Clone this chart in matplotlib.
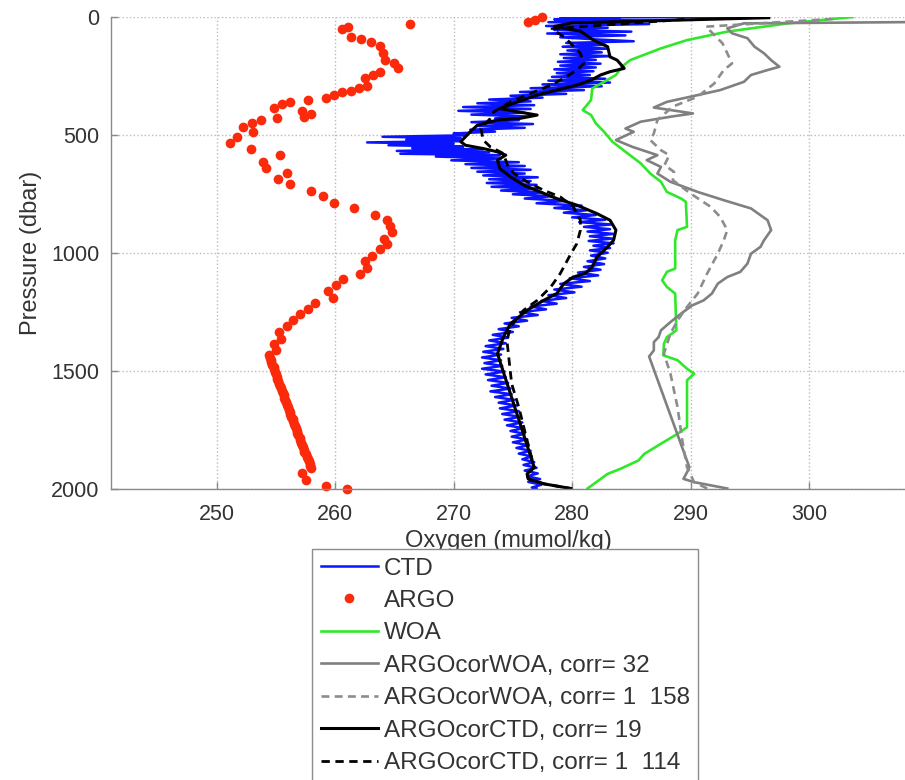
import matplotlib.pyplot as plt

# CTD profile: pressure (dbar) and oxygen (umol/kg)
ctd_p = [0, 2, 6, 10, 16, 22, 30, 38, 46, 55, 62, 70, 78, 86, 95, 103, 110, 118,
         126, 134, 142, 150, 158, 166, 174, 182, 190, 198, 206, 214, 222, 230,
         238, 246, 254, 262, 270, 278, 286, 294, 302, 310, 318, 326, 334, 342,
         350, 358, 366, 374, 382, 390, 398, 406, 414, 422, 430, 438, 446, 454,
         462, 470, 478, 486, 494, 502, 508, 514, 520, 526, 532, 538, 544, 550,
         556, 562, 568, 574, 580, 586, 592, 600, 608, 616, 624, 632, 640, 648,
         656, 664, 672, 680, 688, 696, 704, 712, 720, 728, 736, 744, 752, 760,
         770, 780, 790, 800, 810, 820, 830, 840, 850, 860, 870, 880, 890, 900,
         910, 920, 930, 940, 950, 960, 970, 980, 990, 1000, 1012, 1024, 1036,
         1048, 1060, 1072, 1084, 1096, 1108, 1120, 1132, 1144, 1156, 1168, 1180,
         1192, 1204, 1216, 1228, 1240, 1252, 1264, 1276, 1288, 1300, 1312, 1324,
         1336, 1348, 1360, 1372, 1384, 1396, 1408, 1420, 1432, 1444, 1456, 1468,
         1480, 1492, 1504, 1516, 1528, 1540, 1552, 1564, 1576, 1588, 1600, 1612,
         1624, 1636, 1648, 1660, 1672, 1684, 1696, 1708, 1720, 1732, 1744, 1756,
         1768, 1780, 1792, 1804, 1816, 1828, 1840, 1852, 1864, 1876, 1888, 1900,
         1912, 1924, 1936, 1948, 1960, 1972, 1984, 1996, 2000]
ctd_o = [296.0, 279.0, 284.0, 278.5, 288.0, 278.0, 286.5, 277.8, 283.0, 278.5,
         285.0, 277.9, 284.5, 279.0, 282.0, 285.2, 279.5, 282.8, 279.2, 283.0,
         279.6, 282.5, 279.0, 283.2, 279.3, 282.0, 278.8, 282.4, 279.0, 282.0,
         278.5, 281.8, 278.7, 281.5, 278.3, 282.8, 278.0, 283.2, 277.5, 282.5,
         276.5, 281.0, 275.6, 279.5, 274.8, 277.5, 273.0, 276.5, 272.0, 276.8,
         270.8, 276.5, 270.4, 276.0, 271.5, 276.3, 273.5, 275.5, 271.5, 276.7,
         272.0, 276.0, 271.4, 273.5, 270.0, 271.0, 264.0, 270.6, 266.0, 270.5,
         262.7, 270.0, 264.5, 270.8, 266.5, 272.5, 265.2, 273.0, 265.5, 273.9,
         268.5, 274.0, 269.8, 275.5, 271.0, 276.0, 271.5, 276.5, 272.0, 276.0,
         272.5, 277.1, 273.0, 276.5, 272.8, 277.0, 273.2, 277.1, 274.0, 277.5,
         275.0, 278.3, 276.0, 279.5, 277.0, 280.8, 278.5, 281.2, 279.3, 282.0,
         280.0, 282.8, 280.6, 283.3, 281.0, 283.2, 281.3, 283.5, 281.5, 283.4,
         281.4, 283.5, 281.8, 283.2, 281.5, 283.0, 281.6, 282.8, 281.3, 282.7,
         281.0, 282.4, 280.5, 282.2, 279.8, 281.5, 279.0, 280.8, 278.5, 280.2,
         278.0, 279.5, 277.4, 278.7, 276.5, 277.8, 275.6, 277.1, 274.9, 276.2,
         274.3, 275.5, 273.8, 275.0, 273.3, 274.6, 273.0, 274.4, 272.7, 274.2,
         272.5, 274.0, 272.4, 274.0, 272.6, 274.1, 272.4, 274.3, 272.7, 274.4,
         272.9, 274.6, 273.2, 274.8, 273.1, 274.9, 273.5, 275.1, 273.8, 275.3,
         273.9, 275.5, 274.1, 275.6, 274.3, 275.8, 274.5, 275.9, 274.8, 276.0,
         274.9, 276.2, 275.0, 276.3, 275.3, 276.5, 275.5, 276.6, 275.8, 276.8,
         275.9, 277.0, 276.0, 277.1, 276.2, 277.3, 276.3, 277.4, 276.6, 277.0]

# ARGO float samples
argo_p = [2, 12, 20, 30, 41, 52, 84, 95, 108, 123, 154, 183, 197, 218, 232, 246,
          260, 293, 303, 313, 318, 331, 343, 350, 360, 369, 384, 398, 413, 423,
          430, 437, 451, 468, 487, 508, 536, 558, 586, 614, 640, 660, 688, 709,
          737, 760, 788, 812, 838, 862, 887, 914, 940, 961, 986, 1015, 1035,
          1063, 1088, 1110, 1138, 1162, 1190, 1213, 1237, 1258, 1284, 1309, 1336,
          1364, 1386, 1411, 1435, 1445, 1455, 1465, 1475, 1485, 1495, 1505, 1515,
          1525, 1535, 1545, 1555, 1565, 1575, 1585, 1595, 1605, 1615, 1625, 1635,
          1645, 1655, 1665, 1675, 1685, 1695, 1705, 1715, 1725, 1735, 1745, 1755,
          1765, 1775, 1785, 1795, 1805, 1815, 1825, 1835, 1845, 1855, 1865, 1875,
          1885, 1895, 1904, 1912, 1933, 1963, 1990, 2001]
argo_o = [277.5, 276.9, 276.3, 266.3, 261.1, 260.6, 261.35, 262.2, 263.0, 263.8,
          264.0, 264.2, 265.0, 265.3, 263.8, 263.2, 262.5, 262.7, 262.0, 261.3,
          260.6, 259.9, 259.2, 257.7, 256.2, 255.5, 254.8, 257.2, 258.0, 257.4,
          255.1, 253.7, 253.0, 252.25, 253.1, 251.7, 251.1, 252.9, 255.35, 253.9,
          254.2, 255.9, 255.2, 256.2, 258.0, 259.0, 259.9, 261.6, 263.4, 264.4,
          264.6, 264.8, 264.1, 264.4, 263.8, 263.1, 262.5, 262.7, 262.1, 260.7,
          260.1, 259.4, 259.8, 258.3, 257.7, 257.0, 256.4, 255.9, 255.3, 255.4,
          254.8, 255.0, 254.4, 254.5, 254.6, 254.6, 254.7, 254.8, 254.85, 254.9,
          255.0, 255.05, 255.1, 255.2, 255.3, 255.35, 255.45, 255.5, 255.6, 255.65,
          255.7, 255.8, 255.85, 255.9, 256.0, 256.1, 256.15, 256.2, 256.3, 256.4,
          256.45, 256.5, 256.6, 256.7, 256.75, 256.8, 256.9, 257.0, 257.05, 257.1,
          257.2, 257.3, 257.35, 257.4, 257.5, 257.6, 257.7, 257.75, 257.85, 257.9,
          258.0, 257.2, 257.5, 259.2, 261.0]

# WOA climatology
woa_p = [0, 27, 62, 98, 133, 183, 211, 246, 275, 303, 352, 395, 416, 451, 487,
         529, 579, 621, 664, 699, 742, 770, 784, 890, 904, 947, 1067, 1081, 1117,
         1145, 1173, 1329, 1358, 1386, 1435, 1456, 1492, 1513, 1541, 1740, 1768,
         1810, 1853, 1881, 1916, 1938, 2000]
woa_o = [303.7, 298.2, 293.1, 289.7, 287.5, 284.9, 284.2, 283.7, 282.7, 281.7,
         281.6, 280.9, 281.6, 282.0, 282.7, 283.4, 284.7, 285.8, 286.6, 287.5,
         288.0, 289.2, 289.6, 289.7, 288.9, 288.7, 288.7, 288.0, 287.6, 288.0,
         288.7, 288.8, 288.0, 287.75, 287.7, 288.9, 289.7, 290.3, 289.7, 289.7,
         288.9, 287.5, 286.1, 285.6, 284.1, 283.0, 281.3]

# ARGO corrected with WOA, corr= 32
cw1_p = [21, 27, 48, 69, 90, 126, 154, 183, 211, 225, 246, 275, 310, 338, 360,
         384, 409, 423, 444, 473, 487, 522, 551, 586, 607, 636, 664, 699, 742,
         777, 812, 862, 904, 947, 975, 1004, 1046, 1081, 1103, 1131, 1173, 1202,
         1223, 1258, 1294, 1329, 1358, 1379, 1414, 1440, 1910, 1931, 1959, 1973,
         2000]
cw1_o = [310.0, 294.5, 293.1, 293.5, 294.8, 295.4, 296.2, 296.8, 297.5, 296.5,
         295.1, 294.5, 292.5, 290.0, 288.0, 286.9, 290.2, 288.3, 285.8, 284.5,
         285.2, 283.7, 285.1, 287.2, 286.3, 287.5, 287.2, 288.3, 290.6, 292.8,
         295.1, 296.5, 296.8, 296.2, 295.9, 295.1, 294.8, 294.2, 293.1, 292.3,
         291.8, 291.1, 290.15, 289.2, 288.3, 287.5, 287.3, 286.9, 286.9, 286.5,
         289.9, 289.7, 289.4, 290.3, 293.1]

# ARGO corrected with WOA, corr= 1 158
cw2_p = [8, 41, 76, 112, 154, 197, 225, 282, 338, 380, 437, 494, 522, 565, 586,
         628, 657, 692, 749, 805, 848, 904, 947, 1004, 1088, 1173, 1230, 1287,
         1343, 1428, 1513, 1655, 1796, 1910, 1973, 2000]
cw2_o = [302.0, 291.3, 292.0, 292.7, 293.1, 293.5, 292.8, 292.0, 290.6, 288.5,
         287.2, 286.9, 286.6, 287.5, 288.2, 287.8, 288.6, 288.5, 290.0, 291.7,
         292.5, 293.1, 292.8, 292.3, 291.4, 290.6, 289.7, 288.9, 288.3, 287.75,
         288.3, 288.9, 289.3, 289.7, 290.3, 291.4]

# ARGO corrected with CTD, corr= 19
cc1_p = [3, 25, 40, 60, 98, 126, 169, 183, 218, 232, 246, 268, 289, 310, 331,
         360, 388, 402, 416, 430, 437, 459, 487, 529, 544, 558, 572, 586, 607,
         643, 678, 713, 742, 770, 798, 834, 862, 904, 947, 975, 1018, 1060,
         1088, 1103, 1131, 1173, 1202, 1244, 1301, 1358, 1428, 1910, 1938, 1959,
         1980, 2000]
cc1_o = [296.6, 280.0, 278.5, 280.7, 281.8, 283.0, 283.2, 283.8, 284.4, 283.2,
         282.4, 281.6, 280.4, 278.7, 277.05, 275.4, 273.9, 275.4, 277.05, 275.6,
         273.7, 272.0, 271.4, 270.6, 271.0, 272.5, 273.7, 274.4, 273.7, 273.9,
         274.8, 275.9, 277.3, 278.7, 280.4, 282.1, 283.2, 283.7, 283.5, 283.0,
         282.1, 281.7, 281.1, 280.1, 279.3, 278.7, 277.6, 276.2, 274.8, 274.2,
         273.7, 276.8, 276.2, 276.3, 277.6, 279.9]

# ARGO corrected with CTD, corr= 1 114
cc2_p = [10, 50, 84, 112, 154, 197, 225, 260, 289, 324, 360, 402, 430, 473, 522,
         551, 579, 636, 664, 699, 735, 763, 805, 862, 904, 961, 1004, 1088, 1145,
         1202, 1244, 1315, 1372, 1442, 1556, 1655, 1796, 1910, 1938, 1959, 1980,
         2000]
cc2_o = [289.5, 278.3, 279.3, 279.9, 280.7, 281.0, 280.4, 279.3, 278.2, 276.5,
         274.8, 273.4, 273.1, 272.3, 272.5, 273.1, 274.2, 274.6, 275.1, 276.2,
         277.6, 279.0, 280.1, 280.7, 280.7, 280.4, 279.9, 279.0, 278.2, 277.05,
         275.9, 274.8, 274.5, 274.65, 274.9, 275.5, 276.2, 276.8, 276.2, 276.3,
         277.6, 279.9]

labels = ['CTD', 'ARGO', 'WOA', 'ARGOcorWOA, corr= 32', 'ARGOcorWOA, corr= 1  158',
          'ARGOcorCTD, corr= 19', 'ARGOcorCTD, corr= 1  114']

plt.rcParams['font.family'] = ['Liberation Sans', 'DejaVu Sans']

fig = plt.figure(figsize=(9.05, 7.8), dpi=100)
ax = fig.add_axes([0.1232, 0.3737, 0.8768, 0.6045])

dash = (0, (3, 2))
ax.plot(ctd_o, ctd_p, color='#0a14ff', lw=1.8, label=labels[0])
ax.plot(argo_o, argo_p, 'o', color='#fa2a0a', ms=7, mec='none', clip_on=False,
        label=labels[1])
ax.plot(woa_o, woa_p, color='#30e82a', lw=1.9, label=labels[2])
ax.plot(cw1_o, cw1_p, color='#808080', lw=1.9, label=labels[3])
ax.plot(cw2_o, cw2_p, color='#8c8c8c', lw=1.9, ls=dash, label=labels[4])
ax.plot(cc1_o, cc1_p, color='black', lw=2.2, label=labels[5])
ax.plot(cc2_o, cc2_p, color='black', lw=2.0, ls=dash, label=labels[6])

ax.set_xlim(241.12, 308.1)
ax.set_ylim(2000, 0)
ax.set_xticks([250, 260, 270, 280, 290, 300])
ax.set_yticks([0, 500, 1000, 1500, 2000])
ax.set_axisbelow(True)
ax.grid(True, ls=':', color='#bbbbbb', lw=1.0)

for side in ['top', 'right']:
    ax.spines[side].set_visible(False)
for side in ['left', 'bottom']:
    ax.spines[side].set_color('#8a8a8a')
    ax.spines[side].set_linewidth(1.0)
ax.tick_params(direction='in', length=5, width=1, color='#8a8a8a',
               labelcolor='#333333', labelsize=15.5, pad=8.5)
ax.tick_params(axis='x', pad=11)

ax.set_xlabel('Oxygen (mumol/kg)', fontsize=17, color='#333333', labelpad=4)
ax.set_ylabel('Pressure (dbar)', fontsize=17, color='#333333', labelpad=7)

leg = ax.legend(loc='upper left', bbox_to_anchor=(312 / 905, 1 - 549 / 780),
                bbox_transform=fig.transFigure, borderaxespad=0, fontsize=17.5,
                handlelength=2.35, handletextpad=0.25, labelspacing=0.43,
                borderpad=0.35, numpoints=1, fancybox=False, framealpha=1)
leg.get_frame().set_edgecolor('#8c8c8c')
leg.get_frame().set_linewidth(1.0)
for t in leg.get_texts():
    t.set_color('#333333')

fig.savefig('out.png', dpi=100)
